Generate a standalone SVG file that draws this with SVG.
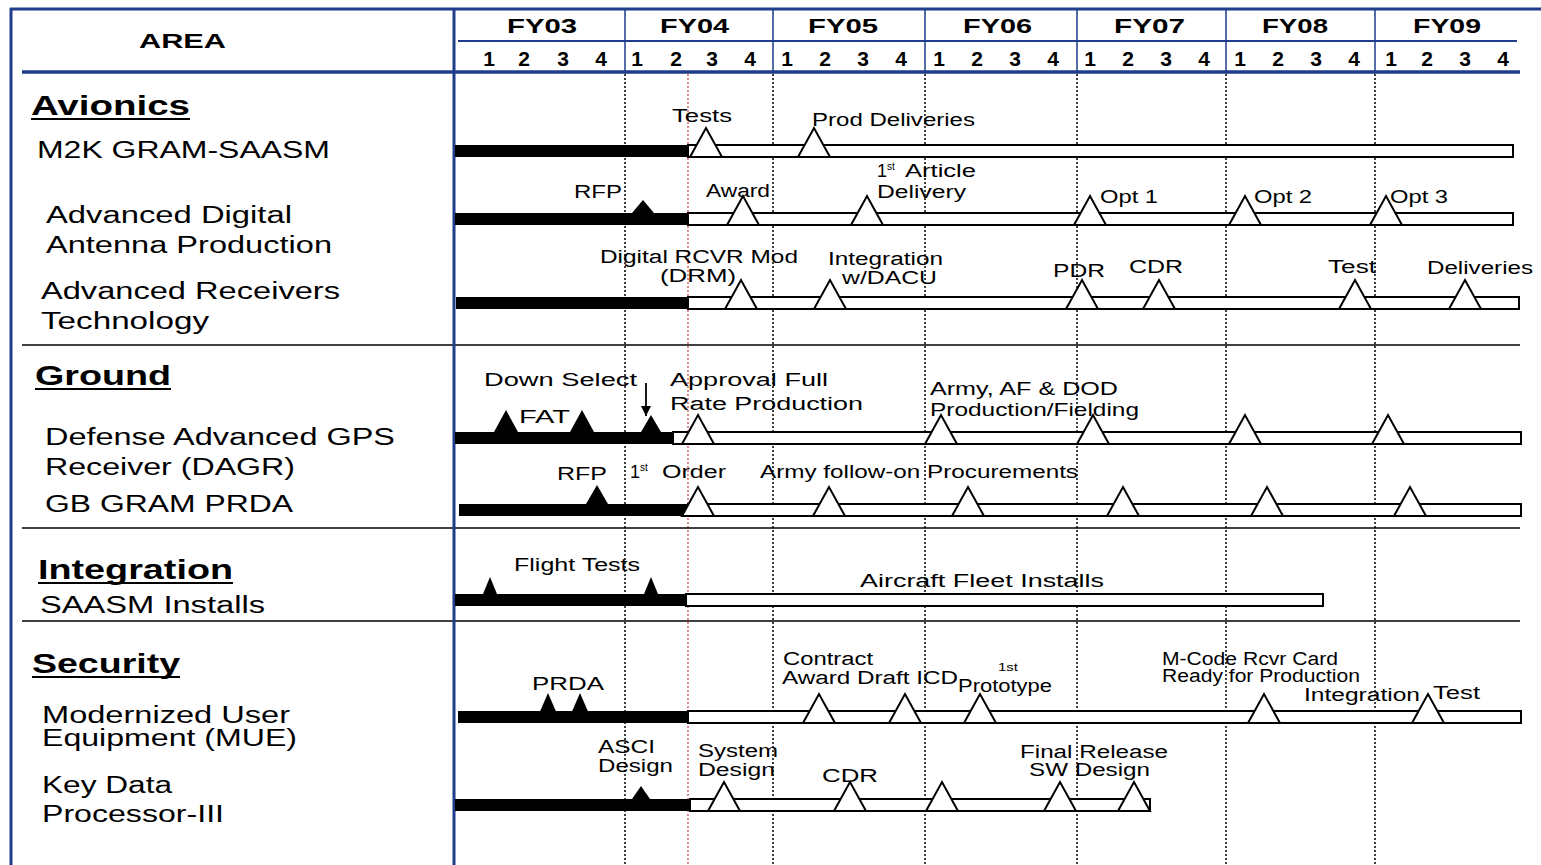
<svg xmlns="http://www.w3.org/2000/svg" xmlns:xlink="http://www.w3.org/1999/xlink" width="1541" height="865" viewBox="0 0 1541 865">
<style>
text { font-family: "Liberation Sans", Arial, sans-serif; fill: #000; }
.hdr { font-weight: bold; font-size: 21px; }
.area { font-size: 23px; }
.cat { font-weight: bold; font-size: 27px; }
.lbl { font-size: 18px; }
.sup { font-size: 10px; }
.blue { stroke: #1f3d8a; fill: none; }
.sep { stroke: #000; stroke-width: 1.5; }
.dot { stroke: #000; stroke-width: 1.5; stroke-dasharray: 2 2; }
.red { stroke: #d04040; stroke-width: 1.2; stroke-dasharray: 2 2; }
.blk { fill: #000; }
.wbar { fill: #fff; stroke: #000; stroke-width: 2; }
.ft { fill: #000; }
.ul { stroke: #000; stroke-width: 2; }
</style>
<defs>
<path id="ot" d="M-16,0 L0,-29 L16,0 Z" fill="#fff" stroke="#000" stroke-width="2"/>
<marker id="arr" markerWidth="12" markerHeight="12" refX="10" refY="6" orient="auto" markerUnits="userSpaceOnUse">
<path d="M0,1 L10,6 L0,11 Z" fill="#000"/>
</marker>
</defs>
<rect x="0" y="0" width="1541" height="865" fill="#fff"/>

<g id="grid">
<line class="dot" x1="625" y1="74" x2="625" y2="865"/>
<line class="dot" x1="773" y1="74" x2="773" y2="865"/>
<line class="dot" x1="925" y1="74" x2="925" y2="865"/>
<line class="dot" x1="1077" y1="74" x2="1077" y2="865"/>
<line class="dot" x1="1226" y1="74" x2="1226" y2="865"/>
<line class="dot" x1="1375" y1="74" x2="1375" y2="865"/>
<line class="red" x1="688" y1="74" x2="688" y2="865"/>
<line class="sep" x1="22" y1="345" x2="1520" y2="345"/>
<line class="sep" x1="22" y1="528" x2="1520" y2="528"/>
<line class="sep" x1="22" y1="621" x2="1520" y2="621"/>
</g>

<g id="header">
<line class="blue" x1="10" y1="9" x2="1541" y2="9" stroke-width="3"/>
<line class="blue" x1="11" y1="8" x2="11" y2="865" stroke-width="3"/>
<line class="blue" x1="454" y1="8" x2="454" y2="865" stroke-width="3"/>
<line class="blue" x1="22" y1="72" x2="1520" y2="72" stroke-width="3.5"/>
<line class="blue" x1="458" y1="41" x2="1517" y2="41" stroke-width="2"/>
<line class="blue" x1="625" y1="9" x2="625" y2="72" stroke-width="1.5"/>
<line class="blue" x1="773" y1="9" x2="773" y2="72" stroke-width="1.5"/>
<line class="blue" x1="925" y1="9" x2="925" y2="72" stroke-width="1.5"/>
<line class="blue" x1="1077" y1="9" x2="1077" y2="72" stroke-width="1.5"/>
<line class="blue" x1="1226" y1="9" x2="1226" y2="72" stroke-width="1.5"/>
<line class="blue" x1="1375" y1="9" x2="1375" y2="72" stroke-width="1.5"/>
<text class="hdr" x="139" y="48" textLength="87" lengthAdjust="spacingAndGlyphs" font-size="22">AREA</text>
<text class="hdr" x="507" y="33" textLength="70" lengthAdjust="spacingAndGlyphs">FY03</text>
<text class="hdr" x="660" y="33" textLength="69" lengthAdjust="spacingAndGlyphs">FY04</text>
<text class="hdr" x="808" y="33" textLength="70" lengthAdjust="spacingAndGlyphs">FY05</text>
<text class="hdr" x="963" y="33" textLength="69" lengthAdjust="spacingAndGlyphs">FY06</text>
<text class="hdr" x="1114" y="33" textLength="71" lengthAdjust="spacingAndGlyphs">FY07</text>
<text class="hdr" x="1262" y="33" textLength="66" lengthAdjust="spacingAndGlyphs">FY08</text>
<text class="hdr" x="1413" y="33" textLength="68" lengthAdjust="spacingAndGlyphs">FY09</text>
<g text-anchor="middle">
<text class="hdr" x="489" y="66">1</text><text class="hdr" x="524" y="66">2</text><text class="hdr" x="563" y="66">3</text><text class="hdr" x="601" y="66">4</text>
<text class="hdr" x="637" y="66">1</text><text class="hdr" x="676" y="66">2</text><text class="hdr" x="712" y="66">3</text><text class="hdr" x="750" y="66">4</text>
<text class="hdr" x="787" y="66">1</text><text class="hdr" x="825" y="66">2</text><text class="hdr" x="863" y="66">3</text><text class="hdr" x="901" y="66">4</text>
<text class="hdr" x="939" y="66">1</text><text class="hdr" x="977" y="66">2</text><text class="hdr" x="1015" y="66">3</text><text class="hdr" x="1053" y="66">4</text>
<text class="hdr" x="1090" y="66">1</text><text class="hdr" x="1128" y="66">2</text><text class="hdr" x="1166" y="66">3</text><text class="hdr" x="1204" y="66">4</text>
<text class="hdr" x="1240" y="66">1</text><text class="hdr" x="1278" y="66">2</text><text class="hdr" x="1316" y="66">3</text><text class="hdr" x="1354" y="66">4</text>
<text class="hdr" x="1391" y="66">1</text><text class="hdr" x="1427" y="66">2</text><text class="hdr" x="1465" y="66">3</text><text class="hdr" x="1503" y="66">4</text>
</g>
</g>

<g id="categories">
<text class="cat" x="31" y="115" textLength="159" lengthAdjust="spacingAndGlyphs">Avionics</text>
<line class="ul" x1="31" y1="119" x2="190" y2="119"/>
<text class="cat" x="35" y="385" textLength="136" lengthAdjust="spacingAndGlyphs">Ground</text>
<line class="ul" x1="35" y1="389" x2="171" y2="389"/>
<text class="cat" x="38" y="579" textLength="195" lengthAdjust="spacingAndGlyphs">Integration</text>
<line class="ul" x1="38" y1="583" x2="233" y2="583"/>
<text class="cat" x="32" y="673" textLength="148" lengthAdjust="spacingAndGlyphs">Security</text>
<line class="ul" x1="32" y1="677" x2="180" y2="677"/>
</g>

<g id="row-m2k">
<text class="area" x="37" y="158" textLength="293" lengthAdjust="spacingAndGlyphs">M2K GRAM-SAASM</text>
<rect class="blk" x="455" y="145" width="233" height="12"/>
<rect class="wbar" x="688" y="145" width="825" height="12"/>
<use xlink:href="#ot" x="706" y="157"/>
<use xlink:href="#ot" x="814" y="157"/>
<text class="lbl" x="672" y="122" textLength="60" lengthAdjust="spacingAndGlyphs">Tests</text>
<text class="lbl" x="812" y="126" textLength="163" lengthAdjust="spacingAndGlyphs">Prod Deliveries</text>
</g>

<g id="row-adap">
<text class="area" x="46" y="223" textLength="246" lengthAdjust="spacingAndGlyphs">Advanced Digital</text>
<text class="area" x="46" y="253" textLength="286" lengthAdjust="spacingAndGlyphs">Antenna Production</text>
<rect class="blk" x="455" y="213" width="233" height="12"/>
<rect class="wbar" x="688" y="213" width="825" height="12"/>
<polygon class="ft" points="632,213 643,200 654,213"/>
<use xlink:href="#ot" x="743" y="225"/>
<use xlink:href="#ot" x="867" y="225"/>
<use xlink:href="#ot" x="1090" y="225"/>
<use xlink:href="#ot" x="1245" y="225"/>
<use xlink:href="#ot" x="1386" y="225"/>
<text class="lbl" x="574" y="198" textLength="48" lengthAdjust="spacingAndGlyphs">RFP</text>
<text class="lbl" x="706" y="197" textLength="64" lengthAdjust="spacingAndGlyphs">Award</text>
<text class="lbl" x="877" y="177">1<tspan class="sup" dy="-7">st</tspan></text>
<text class="lbl" x="905" y="177" textLength="71" lengthAdjust="spacingAndGlyphs">Article</text>
<text class="lbl" x="877" y="198" textLength="89" lengthAdjust="spacingAndGlyphs">Delivery</text>
<text class="lbl" x="1100" y="203" textLength="58" lengthAdjust="spacingAndGlyphs">Opt 1</text>
<text class="lbl" x="1254" y="203" textLength="58" lengthAdjust="spacingAndGlyphs">Opt 2</text>
<text class="lbl" x="1390" y="203" textLength="58" lengthAdjust="spacingAndGlyphs">Opt 3</text>
</g>

<g id="row-art">
<text class="area" x="41" y="299" textLength="299" lengthAdjust="spacingAndGlyphs">Advanced Receivers</text>
<text class="area" x="41" y="329" textLength="168" lengthAdjust="spacingAndGlyphs">Technology</text>
<rect class="blk" x="456" y="297" width="232" height="12"/>
<rect class="wbar" x="688" y="297" width="831" height="12"/>
<use xlink:href="#ot" x="741" y="309"/>
<use xlink:href="#ot" x="830" y="309"/>
<use xlink:href="#ot" x="1082" y="309"/>
<use xlink:href="#ot" x="1159" y="309"/>
<use xlink:href="#ot" x="1355" y="309"/>
<use xlink:href="#ot" x="1465" y="309"/>
<text class="lbl" x="600" y="263" textLength="198" lengthAdjust="spacingAndGlyphs">Digital RCVR Mod</text>
<text class="lbl" x="660" y="282" textLength="76" lengthAdjust="spacingAndGlyphs">(DRM)</text>
<text class="lbl" x="828" y="265" textLength="115" lengthAdjust="spacingAndGlyphs">Integration</text>
<text class="lbl" x="842" y="284" textLength="95" lengthAdjust="spacingAndGlyphs">w/DACU</text>
<text class="lbl" x="1053" y="277" textLength="52" lengthAdjust="spacingAndGlyphs">PDR</text>
<text class="lbl" x="1129" y="273" textLength="54" lengthAdjust="spacingAndGlyphs">CDR</text>
<text class="lbl" x="1328" y="273" textLength="48" lengthAdjust="spacingAndGlyphs">Test</text>
<text class="lbl" x="1427" y="274" textLength="106" lengthAdjust="spacingAndGlyphs">Deliveries</text>
</g>

<g id="row-dagr">
<text class="area" x="45" y="445" textLength="350" lengthAdjust="spacingAndGlyphs">Defense Advanced GPS</text>
<text class="area" x="45" y="475" textLength="250" lengthAdjust="spacingAndGlyphs">Receiver (DAGR)</text>
<rect class="blk" x="455" y="432" width="218" height="12"/>
<rect class="wbar" x="673" y="432" width="848" height="12"/>
<polygon class="ft" points="494,432 506,410 518,432"/>
<polygon class="ft" points="570,432 582,410 594,432"/>
<polygon class="ft" points="641,432 651,415 661,432"/>
<use xlink:href="#ot" x="698" y="444"/>
<use xlink:href="#ot" x="941" y="444"/>
<use xlink:href="#ot" x="1093" y="444"/>
<use xlink:href="#ot" x="1245" y="444"/>
<use xlink:href="#ot" x="1388" y="444"/>
<text class="lbl" x="484" y="386" textLength="153" lengthAdjust="spacingAndGlyphs">Down Select</text>
<text class="lbl" x="519" y="423" textLength="51" lengthAdjust="spacingAndGlyphs">FAT</text>
<text class="lbl" x="670" y="386" textLength="158" lengthAdjust="spacingAndGlyphs">Approval Full</text>
<text class="lbl" x="670" y="410" textLength="193" lengthAdjust="spacingAndGlyphs">Rate Production</text>
<text class="lbl" x="930" y="395" textLength="188" lengthAdjust="spacingAndGlyphs">Army, AF &amp; DOD</text>
<text class="lbl" x="930" y="416" textLength="209" lengthAdjust="spacingAndGlyphs">Production/Fielding</text>
</g>

<g id="row-gbgram">
<text class="area" x="45" y="512" textLength="248" lengthAdjust="spacingAndGlyphs">GB GRAM PRDA</text>
<rect class="blk" x="459" y="504" width="229" height="12"/>
<rect class="wbar" x="688" y="504" width="833" height="12"/>
<polygon class="ft" points="586,504 597,485 608,504"/>
<use xlink:href="#ot" x="698" y="516"/>
<use xlink:href="#ot" x="829" y="516"/>
<use xlink:href="#ot" x="968" y="516"/>
<use xlink:href="#ot" x="1123" y="516"/>
<use xlink:href="#ot" x="1267" y="516"/>
<use xlink:href="#ot" x="1410" y="516"/>
<text class="lbl" x="557" y="480" textLength="50" lengthAdjust="spacingAndGlyphs">RFP</text>
<text class="lbl" x="630" y="478">1<tspan class="sup" dy="-7">st</tspan></text>
<text class="lbl" x="662" y="478" textLength="64" lengthAdjust="spacingAndGlyphs">Order</text>
<text class="lbl" x="760" y="478" textLength="318" lengthAdjust="spacingAndGlyphs">Army follow-on Procurements</text>
</g>

<g id="row-saasm">
<text class="area" x="40" y="613" textLength="225" lengthAdjust="spacingAndGlyphs">SAASM Installs</text>
<rect class="blk" x="455" y="594" width="231" height="12"/>
<rect class="wbar" x="686" y="594" width="637" height="12"/>
<polygon class="ft" points="483,594 490,577 497,594"/>
<polygon class="ft" points="644,594 651,577 658,594"/>
<text class="lbl" x="514" y="571" textLength="126" lengthAdjust="spacingAndGlyphs">Flight Tests</text>
<text class="lbl" x="860" y="587" textLength="244" lengthAdjust="spacingAndGlyphs">Aircraft Fleet Installs</text>
</g>

<g id="row-mue">
<text class="area" x="42" y="723" textLength="248" lengthAdjust="spacingAndGlyphs">Modernized User</text>
<text class="area" x="42" y="746" textLength="255" lengthAdjust="spacingAndGlyphs">Equipment (MUE)</text>
<rect class="blk" x="458" y="711" width="230" height="12"/>
<rect class="wbar" x="688" y="711" width="833" height="12"/>
<polygon class="ft" points="535,723 548,693 561,723"/>
<polygon class="ft" points="567,723 580,693 593,723"/>
<use xlink:href="#ot" x="819" y="723"/>
<use xlink:href="#ot" x="905" y="723"/>
<use xlink:href="#ot" x="980" y="723"/>
<use xlink:href="#ot" x="1264" y="723"/>
<use xlink:href="#ot" x="1428" y="723"/>
<text class="lbl" x="532" y="690" textLength="72" lengthAdjust="spacingAndGlyphs">PRDA</text>
<text class="lbl" x="783" y="665" textLength="90" lengthAdjust="spacingAndGlyphs">Contract</text>
<text class="lbl" x="782" y="684" textLength="176" lengthAdjust="spacingAndGlyphs">Award Draft ICD</text>
<text class="sup" x="998" y="671" textLength="20" lengthAdjust="spacingAndGlyphs">1st</text>
<text class="lbl" x="958" y="692" font-size="16" textLength="94" lengthAdjust="spacingAndGlyphs">Prototype</text>
<text class="lbl" x="1162" y="665" font-size="14" textLength="176" lengthAdjust="spacingAndGlyphs">M-Code Rcvr Card</text>
<text class="lbl" x="1162" y="682" font-size="14" textLength="198" lengthAdjust="spacingAndGlyphs">Ready for Production</text>
<text class="lbl" x="1304" y="701" textLength="116" lengthAdjust="spacingAndGlyphs">Integration</text>
<text class="lbl" x="1433" y="699" textLength="47" lengthAdjust="spacingAndGlyphs">Test</text>
</g>

<g id="row-kdp">
<text class="area" x="42" y="793" textLength="130" lengthAdjust="spacingAndGlyphs">Key Data</text>
<text class="area" x="42" y="822" textLength="182" lengthAdjust="spacingAndGlyphs">Processor-III</text>
<rect class="blk" x="455" y="799" width="235" height="12"/>
<rect class="wbar" x="690" y="799" width="460" height="12"/>
<polygon class="ft" points="632,799 641,786 650,799"/>
<use xlink:href="#ot" x="724" y="811"/>
<use xlink:href="#ot" x="850" y="811"/>
<use xlink:href="#ot" x="942" y="811"/>
<use xlink:href="#ot" x="1060" y="811"/>
<use xlink:href="#ot" x="1134" y="811"/>
<text class="lbl" x="598" y="753" textLength="57" lengthAdjust="spacingAndGlyphs">ASCI</text>
<text class="lbl" x="598" y="772" textLength="75" lengthAdjust="spacingAndGlyphs">Design</text>
<text class="lbl" x="698" y="757" textLength="80" lengthAdjust="spacingAndGlyphs">System</text>
<text class="lbl" x="698" y="776" textLength="77" lengthAdjust="spacingAndGlyphs">Design</text>
<text class="lbl" x="822" y="782" textLength="56" lengthAdjust="spacingAndGlyphs">CDR</text>
<text class="lbl" x="1020" y="758" textLength="148" lengthAdjust="spacingAndGlyphs">Final Release</text>
<text class="lbl" x="1029" y="776" textLength="121" lengthAdjust="spacingAndGlyphs">SW Design</text>
</g>

<g id="connectors">
<line x1="646" y1="383" x2="646" y2="416" stroke="#000" stroke-width="1.8" marker-end="url(#arr)"/>
</g>
</svg>
